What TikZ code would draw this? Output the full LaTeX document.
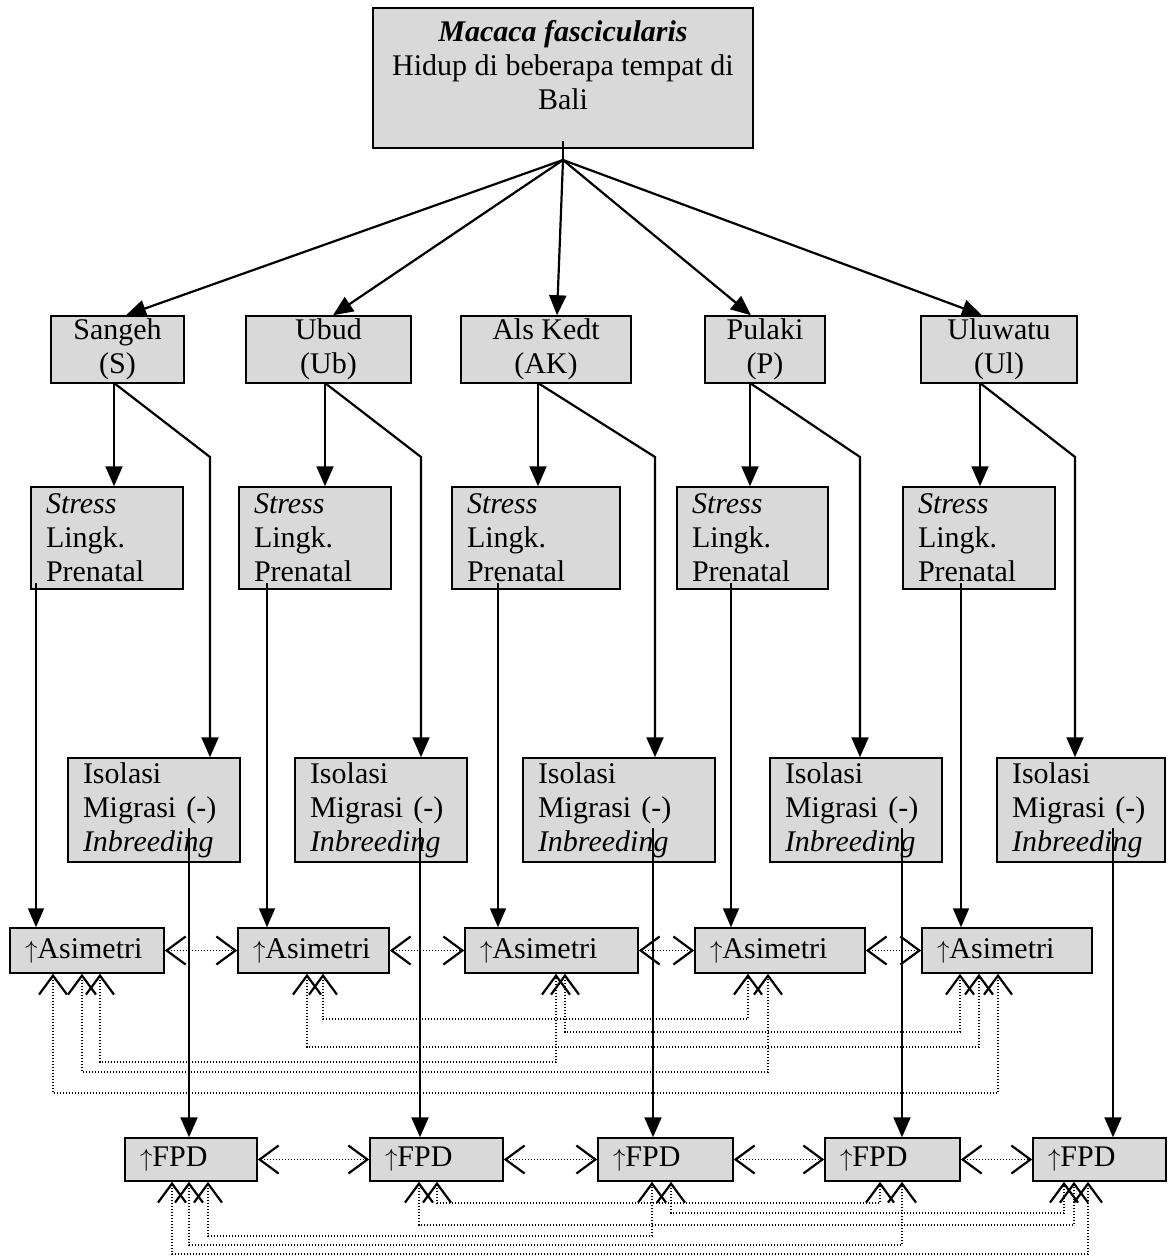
\documentclass[tikz,border=0pt]{standalone}
\usepackage{fontspec}
\setmainfont{Liberation Serif}
\usetikzlibrary{arrows.meta,calc}
\definecolor{boxgray}{gray}{0.85}
\begin{document}
\begin{tikzpicture}[x=1pt,y=-1pt,
  box/.style={draw=black, line width=1.5pt, fill=boxgray, inner sep=0pt, font=\fontsize{30}{34}\selectfont},
  cbox/.style={box, align=center},
  lbox/.style={box, align=left, inner xsep=15pt},
  arr/.style={line width=2.2pt, -{Triangle[length=20pt,width=17pt]}},
  thinarr/.style={line width=1.6pt, -{Triangle[length=19pt,width=16pt]}},
  dl/.style={line width=1.4pt, dash pattern=on 1.5pt off 1.5pt,
    {Straight Barb[length=19pt,width=28pt,line width=2.2pt]}-{Straight Barb[length=19pt,width=28pt,line width=2.2pt]}},
]
\useasboundingbox (0,0) rectangle (1171,1256);

% top box
\node[cbox, minimum width=380pt, minimum height=140pt] (T) at (563,78)
  {\textbf{\textit{Macaca fascicularis}}\\Hidup di beberapa tempat di\\Bali\\[-8pt]\mbox{}};

% locations
\node[cbox, minimum width=133pt, minimum height=67pt] (L1) at (117.5,349.5) {Sangeh\\(S)};
\node[cbox, minimum width=165pt, minimum height=67pt] (L2) at (328.5,349.5) {Ubud\\(Ub)};
\node[cbox, minimum width=170pt, minimum height=67pt] (L3) at (546,349.5) {Als Kedt\\(AK)};
\node[cbox, minimum width=120pt, minimum height=67pt] (L4) at (765,349.5) {Pulaki\\(P)};
\node[cbox, minimum width=156pt, minimum height=67pt] (L5) at (999,349.5) {Uluwatu\\(Ul)};

% stress boxes
\node[lbox, text width=122pt, minimum height=102pt] (S1) at (107,538) {\textit{Stress}\\Lingk.\\Prenatal};
\node[lbox, text width=122pt, minimum height=102pt] (S2) at (315,538) {\textit{Stress}\\Lingk.\\Prenatal};
\node[lbox, text width=138pt, minimum height=102pt] (S3) at (536,538) {\textit{Stress}\\Lingk.\\Prenatal};
\node[lbox, text width=121pt, minimum height=102pt] (S4) at (752.5,538) {\textit{Stress}\\Lingk.\\Prenatal};
\node[lbox, text width=122pt, minimum height=102pt] (S5) at (979,538) {\textit{Stress}\\Lingk.\\Prenatal};

% isolation boxes
\node[lbox, text width=142pt, minimum height=104pt] (I1) at (154,810) {Isolasi\\Migrasi (-)\\\textit{Inbreeding}};
\node[lbox, text width=142pt, minimum height=104pt] (I2) at (381,810) {Isolasi\\Migrasi (-)\\\textit{Inbreeding}};
\node[lbox, text width=162pt, minimum height=104pt] (I3) at (619,810) {Isolasi\\Migrasi (-)\\\textit{Inbreeding}};
\node[lbox, text width=142pt, minimum height=104pt] (I4) at (856,810) {Isolasi\\Migrasi (-)\\\textit{Inbreeding}};
\node[lbox, text width=138pt, minimum height=104pt] (I5) at (1081,810) {Isolasi\\Migrasi (-)\\\textit{Inbreeding}};

% asymmetry boxes
\node[lbox, text width=124pt, minimum height=45pt] (A1) at (87,950.5) {$\uparrow$Asimetri};
\node[lbox, text width=121pt, minimum height=45pt] (A2) at (313.5,950.5) {$\uparrow$Asimetri};
\node[lbox, text width=143pt, minimum height=45pt] (A3) at (551.5,950.5) {$\uparrow$Asimetri};
\node[lbox, text width=140pt, minimum height=45pt] (A4) at (780,950.5) {$\uparrow$Asimetri};
\node[lbox, text width=140pt, minimum height=45pt] (A5) at (1007,950.5) {$\uparrow$Asimetri};

% FPD boxes
\node[lbox, text width=102pt, minimum height=43pt] (F1) at (191,1159.5) {$\uparrow$FPD};
\node[lbox, text width=103pt, minimum height=43pt] (F2) at (436.5,1159.5) {$\uparrow$FPD};
\node[lbox, text width=105pt, minimum height=43pt] (F3) at (665.5,1159.5) {$\uparrow$FPD};
\node[lbox, text width=105pt, minimum height=43pt] (F4) at (892.5,1159.5) {$\uparrow$FPD};
\node[lbox, text width=103pt, minimum height=43pt] (F5) at (1099.5,1159.5) {$\uparrow$FPD};

% fan from top box
\coordinate (fan) at (563,160);
\draw[line width=2.2pt] ([yshift=8pt]T.south) -- (fan);
\draw[arr] (fan) -- ([xshift=8.5pt]L1.north);
\draw[arr] (fan) -- ([xshift=4.5pt]L2.north);
\draw[arr] (fan) -- ([xshift=11pt]L3.north);
\draw[arr] (fan) -- ([xshift=-14pt]L4.north);
\draw[arr] (fan) -- ([xshift=-17pt]L5.north);

% location -> stress and location -> isolation
\foreach \i/\xa/\xb in {1/114/210, 2/325/421, 3/538/655, 4/750/860, 5/980/1075}{
  \coordinate (la\i) at (\xa,383);
  \coordinate (lb\i) at (\xb,457);
  \draw[arr] (la\i) -- (la\i |- S\i.north);
  \draw[arr] (la\i) -- (lb\i) -- (lb\i |- I\i.north);
}

% stress -> asymmetry
\foreach \i/\x in {1/36, 2/267, 3/498, 4/731, 5/961}{
  \coordinate (sa\i) at (\x,583);
  \draw[thinarr] (sa\i) -- (sa\i |- A\i.north);
}

% isolation -> FPD
\foreach \i/\x in {1/189, 2/420, 3/653, 4/902, 5/1113}{
  \coordinate (ia\i) at (\x,828);
  \draw[arr] (ia\i) -- (ia\i |- F\i.north);
}

% adjacent dotted links
\draw[dl] (A1.east) -- (A2.west);
\draw[dl] (A2.east) -- (A3.west);
\draw[dl] (A3.east) -- (A4.west);
\draw[dl] (A4.east) -- (A5.west);
\draw[dl] (F1.east) -- (F2.west);
\draw[dl] (F2.east) -- (F3.west);
\draw[dl] (F3.east) -- (F4.west);
\draw[dl] (F4.east) -- (F5.west);

% long dotted links, asymmetry row
\foreach \a/\xa/\b/\xb/\y in {A2/323/A4/748/1019, A3/565/A5/960/1032, A2/307/A5/979/1047,
    A1/100/A3/556/1062, A1/82/A4/768/1072, A1/53/A5/998/1093}{
  \draw[dl] (\xa,0 |- \a.south) -- (\xa,\y) -| (\xb,0 |- \b.south);
}
% long dotted links, FPD row
\foreach \a/\xa/\b/\xb/\y in {F2/437/F4/880/1203, F3/671/F5/1064/1213, F2/419/F5/1074/1225,
    F1/208/F3/652/1236, F1/189/F4/902/1245, F1/172/F5/1088/1254}{
  \draw[dl] (\xa,0 |- \a.south) -- (\xa,\y) -| (\xb,0 |- \b.south);
}
\end{tikzpicture}
\end{document}
